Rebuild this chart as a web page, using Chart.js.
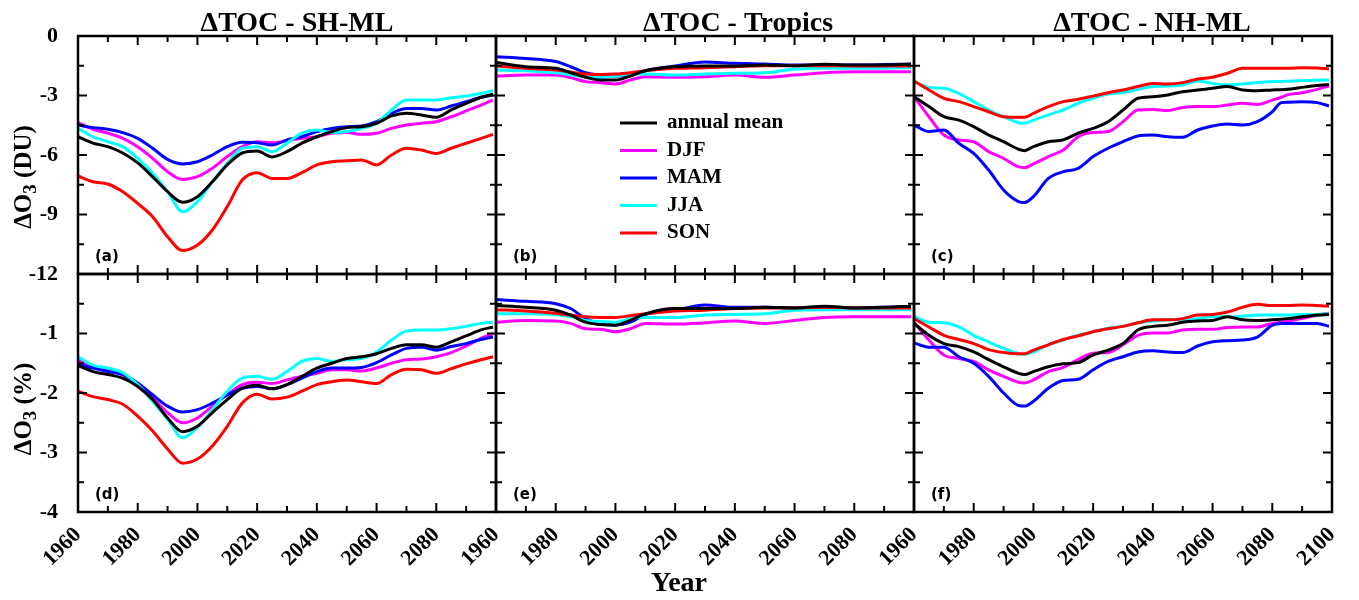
<!DOCTYPE html>
<html>
<head>
<meta charset="utf-8">
<script src="https://cdn.jsdelivr.net/npm/chart.js@4.4.1/dist/chart.umd.min.js"></script>
<style>
  body { margin: 0; background: #fff; }
  canvas { display: block; }
</style>
</head>
<body>
<canvas id="ozone" width="1359" height="600"></canvas>
<script>
// Years the curves were read at (per region)
const yearsSH = [1960,1965,1970,1975,1980,1985,1990,1995,2000,2005,2010,2015,2020,2025,2030,2035,2040,2045,2050,2055,2060,2065,2070,2075,2080,2085,2090,2095,2099];
const yearsTR = [1960,1970,1980,1985,1990,1995,2000,2005,2010,2020,2030,2040,2050,2060,2070,2080,2090,2099];
const yearsNH = [1960,1965,1970,1975,1980,1985,1990,1995,1997,2000,2005,2010,2015,2020,2025,2030,2035,2040,2045,2050,2055,2060,2065,2070,2075,2080,2083,2085,2090,2095,2099];

const seriesNames = ['annual mean', 'DJF', 'MAM', 'JJA', 'SON'];
const seriesColors = ['#000000', '#ff00ff', '#0000ff', '#00ffff', '#ff0000'];

// rows: annual mean, DJF, MAM, JJA, SON
// (a) SH-ML, DU
const shDU = [
  [-5.08,-5.4,-5.58,-5.9,-6.4,-7.1,-7.85,-8.38,-8.1,-7.35,-6.5,-5.9,-5.8,-6.1,-5.83,-5.4,-5.08,-4.82,-4.62,-4.57,-4.4,-4.03,-3.9,-3.98,-4.1,-3.73,-3.4,-3.09,-2.94],
  [-4.37,-4.7,-4.9,-5.16,-5.58,-6.17,-6.84,-7.23,-7.09,-6.67,-6.08,-5.58,-5.33,-5.38,-5.28,-5.16,-5.08,-4.9,-4.87,-4.96,-4.9,-4.66,-4.49,-4.4,-4.32,-4.07,-3.78,-3.48,-3.23],
  [-4.49,-4.62,-4.7,-4.87,-5.16,-5.66,-6.22,-6.45,-6.34,-6.0,-5.58,-5.36,-5.38,-5.5,-5.24,-5.08,-4.82,-4.66,-4.57,-4.54,-4.32,-3.9,-3.65,-3.65,-3.73,-3.53,-3.31,-3.09,-2.97],
  [-4.66,-5.08,-5.33,-5.58,-6.17,-6.92,-7.85,-8.86,-8.35,-7.35,-6.42,-5.66,-5.58,-5.83,-5.4,-4.9,-4.74,-4.87,-4.82,-4.66,-4.4,-3.73,-3.23,-3.23,-3.23,-3.11,-3.03,-2.89,-2.76],
  [-7.06,-7.35,-7.46,-7.85,-8.44,-9.11,-10.12,-10.82,-10.54,-9.78,-8.6,-7.26,-6.89,-7.18,-7.18,-6.89,-6.5,-6.34,-6.29,-6.25,-6.5,-6.0,-5.66,-5.75,-5.92,-5.66,-5.41,-5.16,-4.96]
];
// (b) Tropics, DU
const trDU = [
  [-1.34,-1.55,-1.63,-1.85,-2.08,-2.22,-2.22,-2.02,-1.75,-1.55,-1.51,-1.51,-1.46,-1.5,-1.43,-1.46,-1.46,-1.43],
  [-2.02,-1.97,-1.97,-2.1,-2.3,-2.35,-2.42,-2.22,-2.05,-2.08,-2.05,-1.97,-2.08,-1.97,-1.85,-1.8,-1.8,-1.8],
  [-1.04,-1.13,-1.29,-1.55,-1.85,-1.97,-2.02,-1.97,-1.75,-1.51,-1.31,-1.38,-1.41,-1.46,-1.46,-1.46,-1.44,-1.41],
  [-1.71,-1.75,-1.85,-1.95,-2.08,-2.1,-2.02,-1.92,-1.92,-1.97,-1.92,-1.88,-1.85,-1.68,-1.63,-1.63,-1.62,-1.6],
  [-1.51,-1.63,-1.71,-1.82,-1.92,-1.94,-1.92,-1.85,-1.75,-1.63,-1.6,-1.55,-1.5,-1.5,-1.5,-1.51,-1.51,-1.51]
];
// (c) NH-ML, DU
const nhDU = [
  [-3.06,-3.56,-4.07,-4.24,-4.57,-4.99,-5.33,-5.71,-5.78,-5.58,-5.33,-5.24,-4.9,-4.66,-4.32,-3.73,-3.14,-3.06,-2.97,-2.81,-2.72,-2.64,-2.55,-2.72,-2.76,-2.72,-2.71,-2.69,-2.59,-2.5,-2.44],
  [-3.06,-4.07,-4.99,-5.24,-5.33,-5.83,-6.17,-6.59,-6.64,-6.45,-6.08,-5.75,-5.08,-4.87,-4.82,-4.32,-3.73,-3.7,-3.76,-3.6,-3.56,-3.56,-3.48,-3.39,-3.45,-3.23,-3.09,-2.97,-2.86,-2.69,-2.52],
  [-4.49,-4.82,-4.74,-5.41,-5.92,-6.76,-7.76,-8.35,-8.4,-8.1,-7.18,-6.84,-6.67,-6.08,-5.66,-5.33,-5.04,-4.99,-5.08,-5.11,-4.74,-4.54,-4.44,-4.49,-4.32,-3.82,-3.36,-3.34,-3.31,-3.36,-3.53],
  [-2.3,-2.59,-2.64,-2.89,-3.31,-3.73,-4.07,-4.37,-4.4,-4.24,-3.98,-3.73,-3.39,-3.14,-2.92,-2.86,-2.69,-2.55,-2.52,-2.47,-2.27,-2.39,-2.47,-2.42,-2.35,-2.3,-2.29,-2.28,-2.25,-2.23,-2.22],
  [-2.27,-2.72,-3.14,-3.31,-3.56,-3.82,-4.07,-4.1,-4.1,-3.9,-3.56,-3.31,-3.19,-3.03,-2.86,-2.72,-2.55,-2.39,-2.42,-2.35,-2.17,-2.08,-1.88,-1.63,-1.63,-1.63,-1.63,-1.63,-1.6,-1.61,-1.66]
];
// (d) SH-ML, %
const shPct = [
  [-1.54,-1.64,-1.69,-1.75,-1.89,-2.11,-2.42,-2.65,-2.56,-2.33,-2.11,-1.92,-1.87,-1.93,-1.86,-1.72,-1.58,-1.5,-1.42,-1.39,-1.34,-1.25,-1.19,-1.19,-1.23,-1.14,-1.04,-0.94,-0.89],
  [-1.44,-1.56,-1.61,-1.69,-1.86,-2.08,-2.33,-2.5,-2.42,-2.22,-2.03,-1.86,-1.82,-1.84,-1.78,-1.72,-1.67,-1.61,-1.61,-1.63,-1.58,-1.5,-1.44,-1.43,-1.39,-1.32,-1.21,-1.08,-1.0],
  [-1.51,-1.58,-1.64,-1.69,-1.83,-2.03,-2.22,-2.32,-2.28,-2.17,-2.03,-1.92,-1.89,-1.93,-1.86,-1.75,-1.64,-1.58,-1.58,-1.57,-1.49,-1.36,-1.25,-1.23,-1.28,-1.22,-1.17,-1.1,-1.06],
  [-1.39,-1.53,-1.58,-1.66,-1.86,-2.14,-2.44,-2.75,-2.58,-2.28,-1.97,-1.75,-1.72,-1.77,-1.64,-1.47,-1.42,-1.47,-1.44,-1.42,-1.31,-1.11,-0.96,-0.94,-0.94,-0.92,-0.88,-0.83,-0.81],
  [-1.97,-2.06,-2.11,-2.19,-2.39,-2.64,-2.94,-3.18,-3.11,-2.89,-2.56,-2.17,-2.02,-2.1,-2.07,-1.97,-1.86,-1.81,-1.78,-1.81,-1.84,-1.69,-1.6,-1.61,-1.67,-1.59,-1.51,-1.44,-1.39]
];
// (e) Tropics, %
const trPct = [
  [-0.53,-0.56,-0.61,-0.69,-0.81,-0.85,-0.86,-0.78,-0.67,-0.58,-0.58,-0.58,-0.56,-0.57,-0.54,-0.57,-0.56,-0.54],
  [-0.81,-0.78,-0.79,-0.83,-0.92,-0.93,-0.97,-0.92,-0.83,-0.84,-0.82,-0.79,-0.83,-0.78,-0.73,-0.72,-0.72,-0.72],
  [-0.43,-0.46,-0.5,-0.58,-0.75,-0.83,-0.86,-0.81,-0.68,-0.61,-0.52,-0.56,-0.56,-0.57,-0.57,-0.57,-0.56,-0.56],
  [-0.67,-0.67,-0.68,-0.72,-0.78,-0.8,-0.81,-0.75,-0.73,-0.73,-0.69,-0.68,-0.67,-0.61,-0.6,-0.6,-0.6,-0.6],
  [-0.6,-0.62,-0.66,-0.69,-0.72,-0.73,-0.73,-0.7,-0.67,-0.62,-0.61,-0.58,-0.57,-0.57,-0.56,-0.57,-0.57,-0.57]
];
// (f) NH-ML, %
const nhPct = [
  [-0.83,-1.03,-1.17,-1.22,-1.31,-1.44,-1.56,-1.67,-1.69,-1.64,-1.56,-1.51,-1.49,-1.36,-1.28,-1.17,-0.94,-0.88,-0.86,-0.81,-0.79,-0.78,-0.72,-0.77,-0.78,-0.77,-0.76,-0.75,-0.72,-0.69,-0.68],
  [-0.81,-1.11,-1.36,-1.42,-1.47,-1.61,-1.72,-1.82,-1.83,-1.78,-1.64,-1.57,-1.44,-1.33,-1.32,-1.19,-1.03,-0.99,-0.99,-0.94,-0.93,-0.93,-0.9,-0.89,-0.89,-0.83,-0.81,-0.79,-0.75,-0.69,-0.66],
  [-1.16,-1.23,-1.23,-1.39,-1.5,-1.72,-2.0,-2.21,-2.22,-2.14,-1.92,-1.79,-1.77,-1.61,-1.47,-1.39,-1.31,-1.29,-1.31,-1.32,-1.21,-1.14,-1.12,-1.11,-1.06,-0.86,-0.83,-0.83,-0.83,-0.83,-0.88],
  [-0.71,-0.81,-0.82,-0.89,-1.03,-1.14,-1.25,-1.34,-1.35,-1.31,-1.19,-1.11,-1.03,-0.97,-0.91,-0.88,-0.82,-0.79,-0.77,-0.77,-0.75,-0.72,-0.72,-0.71,-0.69,-0.69,-0.69,-0.69,-0.68,-0.68,-0.67],
  [-0.75,-0.89,-1.03,-1.1,-1.17,-1.27,-1.32,-1.34,-1.34,-1.28,-1.19,-1.1,-1.04,-0.97,-0.92,-0.88,-0.82,-0.77,-0.77,-0.75,-0.69,-0.68,-0.64,-0.56,-0.51,-0.53,-0.53,-0.53,-0.52,-0.53,-0.54]
];

const panelTitles = ['\u0394TOC - SH-ML', '\u0394TOC - Tropics', '\u0394TOC - NH-ML'];
const panelLetters = ['(a)', '(b)', '(c)', '(d)', '(e)', '(f)'];
const yTitles = [['\u0394O', '3', ' (DU)'], ['\u0394O', '3', ' (%)']];
const xTitle = 'Year';

const serif = "'Liberation Serif', 'Times New Roman', serif";

// one panel = one x axis (column) + one y axis (row)
const panels = [
  { x: 'xA', y: 'yTop', years: yearsSH, rows: shDU },
  { x: 'xB', y: 'yTop', years: yearsTR, rows: trDU },
  { x: 'xC', y: 'yTop', years: yearsNH, rows: nhDU },
  { x: 'xA', y: 'yBot', years: yearsSH, rows: shPct },
  { x: 'xB', y: 'yBot', years: yearsTR, rows: trPct },
  { x: 'xC', y: 'yBot', years: yearsNH, rows: nhPct }
];

const datasets = [];
panels.forEach(p => {
  p.rows.forEach((vals, s) => {
    datasets.push({
      label: seriesNames[s],
      data: vals.map((v, i) => ({ x: p.years[i], y: v })),
      xAxisID: p.x,
      yAxisID: p.y,
      borderColor: seriesColors[s],
      borderWidth: 3,
      pointRadius: 0,
      cubicInterpolationMode: 'monotone',
      order: s === 0 ? 0 : 5 - s
    });
  });
});

function xAxis(hideLast) {
  return {
    type: 'linear', axis: 'x', position: 'bottom', stack: 'cols', stackWeight: 1,
    min: 1960, max: 2100,
    grid: { display: false }, border: { display: false },
    ticks: {
      stepSize: 20, autoSkip: false, minRotation: 45, maxRotation: 45, padding: 2,
      color: '#000', font: { family: serif, size: 22, weight: 'bold' },
      callback: v => (hideLast && v === 2100) ? '' : String(v)
    },
    afterFit: s => { s.height = 88; }
  };
}
function yAxis(min, step, hideTop) {
  return {
    type: 'linear', axis: 'y', position: 'left', stack: 'rows', stackWeight: 1,
    min: min, max: 0,
    grid: { display: false }, border: { display: false },
    ticks: {
      stepSize: step, padding: 12,
      color: '#000', font: { family: serif, size: 22, weight: 'bold' },
      callback: v => (hideTop && v === 0) ? '' : String(v)
    },
    afterFit: s => { s.width = 78; }
  };
}

// frames, inward ticks and all panel texts
const panelDeco = {
  id: 'panelDeco',
  afterDatasetsDraw(chart) {
    const ctx = chart.ctx;
    const S = chart.scales;
    const cols = [S.xA, S.xB, S.xC];
    const rows = [S.yTop, S.yBot];
    ctx.save();
    ctx.strokeStyle = '#000';
    ctx.lineCap = 'butt';
    const seg = (x1, y1, x2, y2) => { ctx.beginPath(); ctx.moveTo(x1, y1); ctx.lineTo(x2, y2); ctx.stroke(); };

    rows.forEach((ys, r) => {
      cols.forEach((xs, c) => {
        ctx.lineWidth = 2;
        const xStep = xs.options.ticks.stepSize;
        for (let v = xs.min; v <= xs.max; v += xStep / 2) {
          const px = xs.getPixelForValue(v);
          const len = (v - xs.min) % xStep === 0 ? 9 : 6;
          seg(px, ys.bottom, px, ys.bottom - len);
          seg(px, ys.top, px, ys.top + len);
        }
        const yStep = ys.options.ticks.stepSize;
        for (let k = 0; k <= Math.round((ys.max - ys.min) / (yStep / 2)); k++) {
          const v = ys.min + k * yStep / 2;
          const py = ys.getPixelForValue(v);
          const len = k % 2 === 0 ? 9 : 6;
          seg(xs.left, py, xs.left + len, py);
          seg(xs.right, py, xs.right - len, py);
        }
        ctx.lineWidth = 2.5;
        ctx.strokeRect(xs.left, ys.top, xs.right - xs.left, ys.bottom - ys.top);

        ctx.fillStyle = '#000';
        ctx.font = "bold 15px 'DejaVu Sans', sans-serif";
        ctx.textAlign = 'left';
        ctx.textBaseline = 'alphabetic';
        ctx.fillText(panelLetters[r * 3 + c], xs.left + 17, ys.bottom - 13);
      });
    });

    // column titles
    const shift = [10, 33, 29];
    ctx.font = 'bold 28px ' + serif;
    ctx.textAlign = 'center';
    cols.forEach((xs, c) => {
      ctx.fillText(panelTitles[c], (xs.left + xs.right) / 2 + shift[c], 31);
    });

    // y titles with subscript 3
    rows.forEach((ys, r) => {
      const parts = yTitles[r];
      const big = 'bold 25px ' + serif, small = 'bold 19px ' + serif;
      ctx.font = big; const w0 = ctx.measureText(parts[0]).width, w2 = ctx.measureText(parts[2]).width;
      ctx.font = small; const w1 = ctx.measureText(parts[1]).width;
      const total = w0 + w1 + w2;
      ctx.save();
      ctx.translate(31, (ys.top + ys.bottom) / 2 + (r === 0 ? 22 : 16));
      ctx.rotate(-Math.PI / 2);
      ctx.textAlign = 'left';
      let x0 = -total / 2;
      ctx.font = big; ctx.fillText(parts[0], x0, 0);
      ctx.font = small; ctx.fillText(parts[1], x0 + w0, 5);
      ctx.font = big; ctx.fillText(parts[2], x0 + w0 + w1, 0);
      ctx.restore();
    });

    // x title
    ctx.font = 'bold 28px ' + serif;
    ctx.textAlign = 'center';
    ctx.fillText(xTitle, 679, 591);

    // legend inside panel (b)
    const lx = S.xB.left + 124, ly = S.yTop.top + 87;
    ctx.font = 'bold 21px ' + serif;
    ctx.textAlign = 'left';
    ctx.textBaseline = 'middle';
    seriesNames.forEach((name, i) => {
      const y = ly + i * 27.5;
      ctx.strokeStyle = seriesColors[i];
      ctx.lineWidth = 3;
      seg(lx, y, lx + 37, y);
      ctx.fillText(name, lx + 47, y);
    });
    ctx.restore();
  }
};

new Chart(document.getElementById('ozone'), {
  type: 'line',
  data: { datasets: datasets },
  options: {
    responsive: false,
    animation: false,
    devicePixelRatio: 1,
    layout: { padding: { left: 0, top: 36, right: 27, bottom: 0 } },
    scales: {
      xA: xAxis(true),
      xB: xAxis(true),
      xC: xAxis(false),
      // left boxes are stacked in reverse order, so the bottom row comes first
      yBot: yAxis(-4, 1, true),
      yTop: yAxis(-12, 3, false)
    },
    plugins: {
      legend: { display: false },
      tooltip: { enabled: false }
    }
  },
  plugins: [panelDeco]
});
</script>
</body>
</html>
